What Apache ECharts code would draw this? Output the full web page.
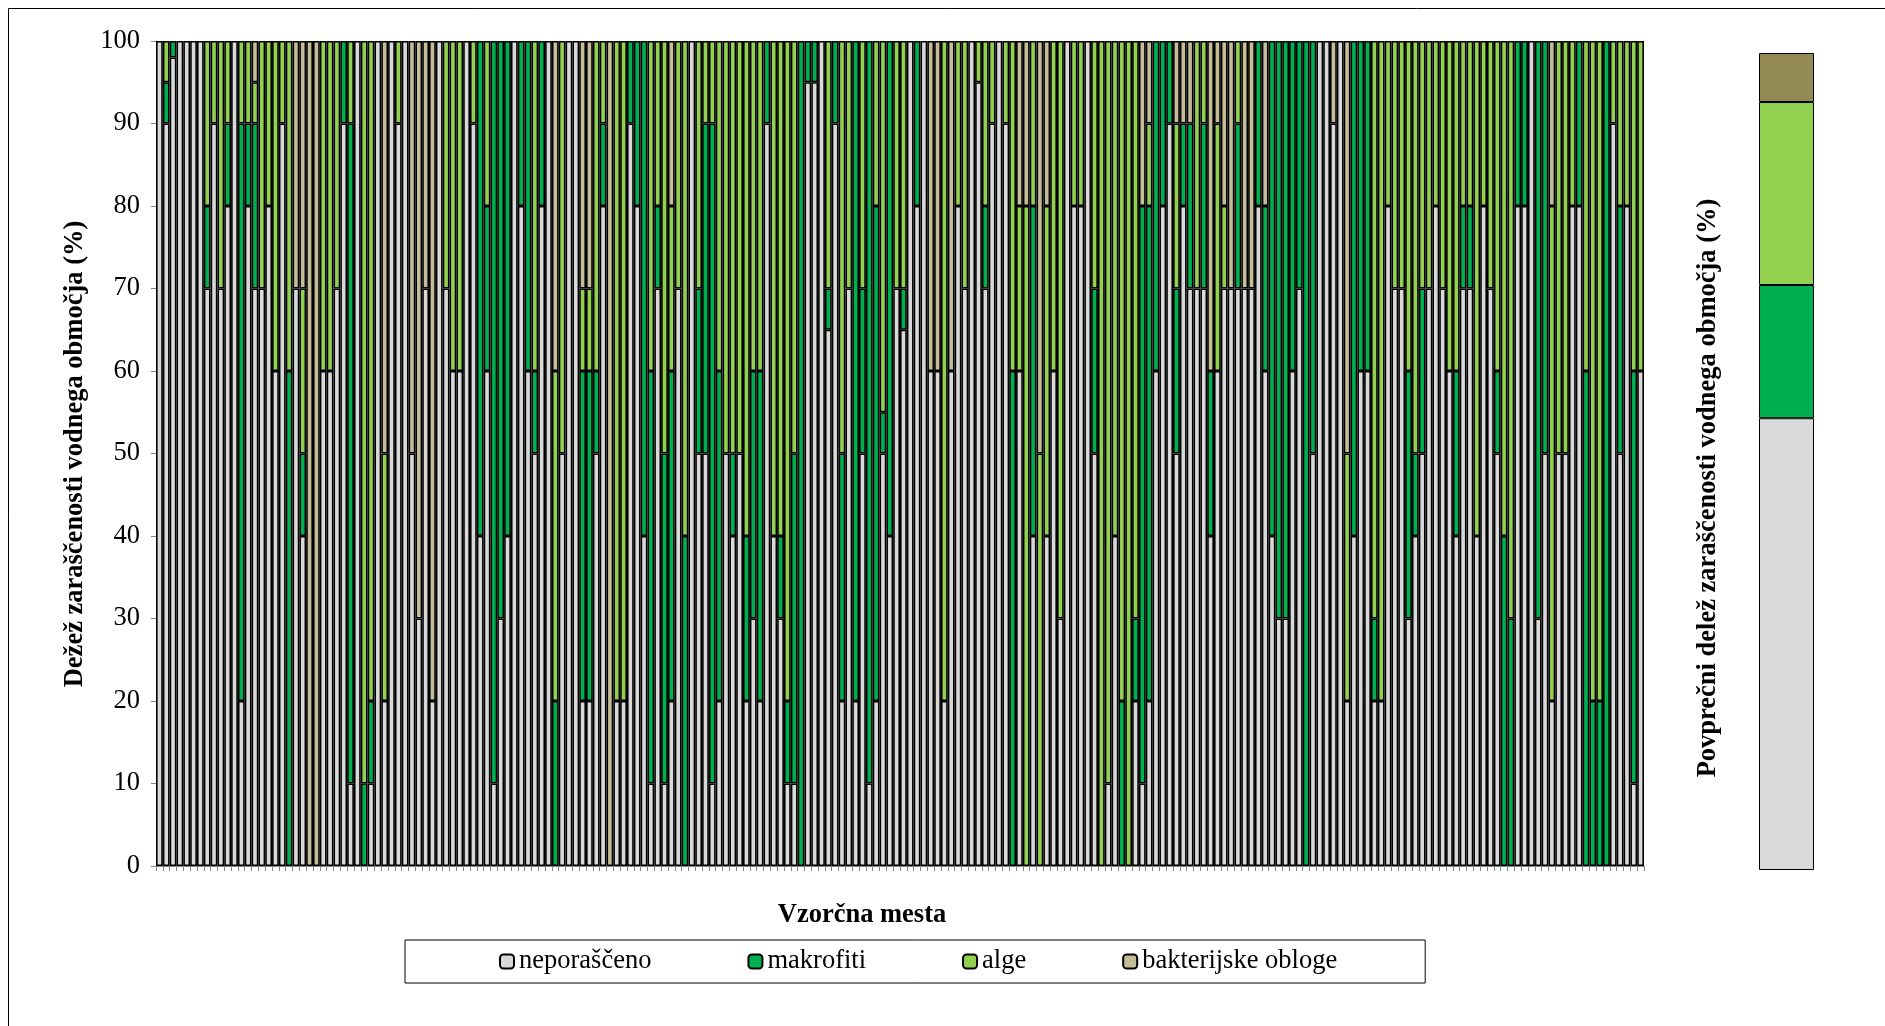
<!DOCTYPE html>
<html>
<head>
<meta charset="utf-8">
<script src="https://cdn.jsdelivr.net/npm/echarts@6/dist/echarts.min.js"></script>
<style>
html,body{margin:0;padding:0;background:#fff;}
#c{width:1885px;height:1026px;}
</style>
</head>
<body>
<div id="c"></div>
<script>
// ---- data ----
const seriesNames = ['neporaščeno', 'makrofiti', 'alge', 'bakterijske obloge'];
const yTicks = [0,10,20,30,40,50,60,70,80,90,100];

const neporasceno = [
100,90,98,100,100,100,100,70,90,70,
80,100,20,80,70,70,80,60,90,0,
70,40,0,0,60,60,70,90,10,100,
0,10,100,20,100,90,100,50,30,70,
20,100,70,60,60,100,90,40,60,10,
30,40,100,80,60,50,80,100,0,50,
100,100,20,20,50,80,0,20,20,90,
80,40,10,70,10,20,70,0,100,50,
50,10,20,50,40,50,20,30,20,90,
40,30,10,10,0,95,95,100,65,90,
20,70,20,50,10,20,50,40,70,65,
100,80,100,60,60,20,60,80,70,100,
95,70,90,100,90,0,60,0,40,0,
40,60,30,100,80,80,100,50,0,10,
40,0,0,20,10,20,60,80,90,50,
80,70,70,70,40,60,70,70,70,70,
70,80,60,40,30,30,60,70,0,50,
100,100,90,100,20,40,60,60,20,20,
80,70,70,30,40,50,70,80,70,60,
40,70,70,40,80,70,50,0,0,80,
80,100,30,50,20,50,50,80,80,0,
0,0,0,90,50,80,10,60];

const makrofiti = [
0,5,2,0,0,0,0,10,0,0,
10,0,70,10,20,0,0,0,0,60,
0,10,0,0,0,0,0,10,80,0,
10,10,0,0,0,0,0,0,0,0,
0,0,0,0,0,0,0,60,20,90,
70,60,0,20,40,10,20,0,20,0,
0,0,40,40,10,10,0,0,0,10,
20,60,50,10,40,40,0,40,0,20,
40,80,40,0,10,0,20,30,40,10,
0,10,10,40,100,5,5,0,5,10,
30,0,80,20,90,60,5,60,0,5,
0,20,0,0,0,0,0,0,0,0,
0,10,0,0,0,60,0,0,40,0,
0,0,0,0,0,0,0,20,0,0,
0,20,0,10,70,60,40,20,10,20,
10,20,0,20,20,0,0,0,20,0,
0,20,20,60,70,70,40,30,100,50,
0,0,0,0,0,60,40,40,10,0,
0,0,0,30,10,20,0,0,0,0,
20,10,10,0,0,0,10,40,30,20,
20,0,70,50,0,0,0,0,20,60,
20,20,100,0,30,0,50,0];

const alge = [
0,5,0,0,0,0,0,20,10,30,
10,0,10,10,5,30,20,40,10,40,
0,20,0,0,40,40,30,0,10,0,
90,80,0,30,0,10,0,0,0,0,
0,0,30,40,40,0,10,0,20,0,
0,0,0,0,0,40,0,0,40,50,
0,0,10,10,40,10,0,80,80,0,
0,0,40,20,50,20,30,60,0,30,
10,10,40,50,50,50,60,40,40,0,
60,60,80,50,0,0,0,0,30,0,
50,30,0,30,0,20,45,0,30,30,
0,0,0,0,0,80,0,20,30,0,
5,20,10,0,10,40,20,80,20,50,
40,40,70,0,20,20,0,30,100,90,
60,80,100,70,0,10,0,0,0,20,
0,0,30,10,0,30,10,0,10,0,
0,0,0,0,0,0,0,0,0,0,
0,0,0,0,30,0,0,0,70,80,
20,30,30,40,50,30,30,20,30,40,
40,20,20,60,20,30,40,60,70,0,
0,0,0,0,60,50,50,20,0,40,
80,80,0,10,20,20,40,40];

const bakterijske = [
0,0,0,0,0,0,0,0,0,0,
0,0,0,0,5,0,0,0,0,0,
30,30,100,100,0,0,0,0,0,0,
0,0,0,50,0,0,0,50,70,30,
80,0,0,0,0,0,0,0,0,0,
0,0,0,0,0,0,0,0,40,0,
0,0,30,30,0,0,100,0,0,0,
0,0,0,0,0,20,0,0,0,0,
0,0,0,0,0,0,0,0,0,0,
0,0,0,0,0,0,0,0,0,0,
0,0,0,0,0,0,0,0,0,0,
0,0,0,40,40,0,40,0,0,0,
0,0,0,0,0,0,20,20,0,50,
20,0,0,0,0,0,0,0,0,0,
0,0,0,0,20,10,0,0,0,10,
10,10,0,0,40,10,20,30,0,30,
30,0,20,0,0,0,0,0,0,0,
0,0,10,0,50,0,0,0,0,0,
0,0,0,0,0,0,0,0,0,0,
0,0,0,0,0,0,0,0,0,0,
0,0,0,0,20,0,0,0,0,0,
0,0,0,0,0,0,0,0];

const categories = neporasceno.map((_, i) => 'M' + (i + 1));

// average bar (right panel)
const avgCategory = ['Povprečje'];
const avgNeporasceno = [55.3];
const avgMakrofiti = [16.3];
const avgAlge = [22.4];
const avgBakterijske = [6.0];

const xTitle = 'Vzorčna mesta';
const yTitle = 'Dežež zaraščenosti vodnega območja (%)';
const avgTitle = 'Povprečni delež zaraščenosti vodnega območja (%)';

// ---- chart ----
const FONT = '"Liberation Serif", "Times New Roman", serif';
const FS = 26.5;
const colors = ['#d9d9d9', '#00b050', '#92d050', '#c4bd97'];
const avgColors = ['#d9d9d9', '#00b050', '#92d050', '#948a54'];
const mainData = [neporasceno, makrofiti, alge, bakterijske];
const avgData = [avgNeporasceno, avgMakrofiti, avgAlge, avgBakterijske];
const z2d = arr => arr.map(v => v === 0 ? '-' : v);

const series = [];
seriesNames.forEach((name, k) => {
  series.push({
    name: name, type: 'bar', stack: 'main', xAxisIndex: 0, yAxisIndex: 0,
    data: z2d(mainData[k]), barCategoryGap: '0%',
    itemStyle: { color: colors[k], borderColor: '#000', borderWidth: 1.6 },
    emphasis: { disabled: true }, animation: false
  });
});
seriesNames.forEach((name, k) => {
  series.push({
    name: 'avg_' + k, type: 'bar', stack: 'avg', xAxisIndex: 1, yAxisIndex: 1,
    data: avgData[k], barWidth: '100%',
    itemStyle: { color: avgColors[k], borderColor: '#000', borderWidth: 1 },
    emphasis: { disabled: true }, animation: false
  });
});

const chart = echarts.init(document.getElementById('c'), null, { renderer: 'canvas' });
chart.setOption({
  backgroundColor: '#fff',
  animation: false,
  textStyle: { fontFamily: FONT, color: '#000' },
  grid: [
    { left: 156, top: 41, width: 1488, height: 825 },
    { left: 1759, top: 53, width: 55, height: 817 }
  ],
  legend: {
    data: seriesNames,
    left: 405, top: 940,
    padding: [8, 88, 8, 94],
    itemGap: 96, itemWidth: 14, itemHeight: 14,
    borderColor: '#000', borderWidth: 1,
    textStyle: { fontFamily: FONT, fontSize: FS, color: '#000' },
    selectedMode: false
  },
  xAxis: [
    {
      type: 'category', gridIndex: 0, data: categories,
      axisLine: { lineStyle: { color: '#868686', width: 1 } },
      axisTick: { show: true, interval: 0, length: 5, lineStyle: { color: '#868686' } },
      axisLabel: { show: false }
    },
    {
      type: 'category', gridIndex: 1, data: avgCategory,
      axisLine: { show: false }, axisTick: { show: false }, axisLabel: { show: false }
    }
  ],
  yAxis: [
    {
      type: 'value', gridIndex: 0, min: yTicks[0], max: yTicks[yTicks.length - 1], interval: 10,
      axisLine: { show: true, lineStyle: { color: '#868686', width: 1 } },
      axisTick: { show: true, length: 5, lineStyle: { color: '#868686' } },
      axisLabel: { margin: 16, fontFamily: FONT, fontSize: FS, color: '#000' },
      splitLine: { show: false }
    },
    {
      type: 'value', gridIndex: 1, min: 0, max: 100,
      axisLine: { show: false }, axisTick: { show: false }, axisLabel: { show: false },
      splitLine: { show: false }
    }
  ],
  graphic: [
    { type: 'rect', shape: { x: 8.5, y: 8.5, width: 2000, height: 2000 },
      style: { fill: 'none', stroke: '#000', lineWidth: 1 }, silent: true },
    { type: 'text', x: 862, y: 915, silent: true,
      style: { text: xTitle, font: 'bold ' + FS + 'px ' + FONT, fill: '#000', align: 'center', verticalAlign: 'middle' } },
    { type: 'text', x: 75, y: 454, rotation: Math.PI / 2, silent: true,
      style: { text: yTitle, font: 'bold ' + FS + 'px ' + FONT, fill: '#000', align: 'center', verticalAlign: 'middle' } },
    { type: 'text', x: 1708, y: 488, rotation: Math.PI / 2, silent: true,
      style: { text: avgTitle, font: 'bold ' + FS + 'px ' + FONT, fill: '#000', align: 'center', verticalAlign: 'middle' } }
  ],
  series: series
});
</script>
</body>
</html>
